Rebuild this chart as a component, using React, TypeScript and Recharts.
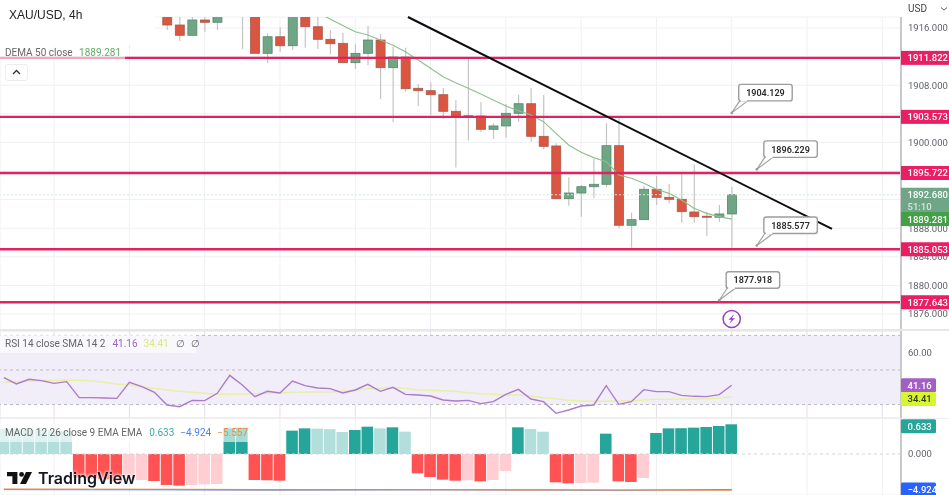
import { Bar, Cell, CartesianGrid, ComposedChart, Line, ReferenceArea, ReferenceDot, ReferenceLine, XAxis, YAxis } from "recharts";

// candles, index 0 is the first one visible on the chart
const opens = [1918.0, 1916.42, 1914.98, 1917.12, 1916.8, 1919.5, 1919.0, 1921.0, 1912.46, 1914.78, 1913.52, 1919.0, 1916.18, 1914.42, 1913.86, 1911.15, 1912.46, 1914.32, 1910.45, 1911.94, 1907.57, 1907.23, 1906.67, 1904.35, 1903.55, 1903.69, 1901.83, 1902.3, 1904.07, 1905.41, 1900.85, 1899.5, 1892.13, 1892.92, 1893.8, 1894.14, 1899.54, 1888.41, 1889.19, 1893.44, 1892.32, 1892.04, 1890.27, 1889.67, 1889.53, 1889.99];
const highs = [1918.5, 1918.0, 1918.0, 1918.2, 1918.6, 1920.0, 1921.0, 1922.0, 1915.26, 1916.1, 1920.0, 1920.0, 1918.0, 1915.68, 1915.34, 1913.72, 1916.28, 1915.16, 1913.38, 1913.24, 1908.17, 1908.41, 1907.61, 1905.93, 1911.8, 1905.61, 1902.67, 1905.37, 1906.67, 1907.61, 1906.63, 1899.88, 1895.12, 1894.04, 1897.68, 1902.67, 1903.37, 1890.17, 1893.94, 1895.3, 1894.18, 1895.68, 1896.94, 1890.31, 1891.24, 1893.8];
const lows = [1915.72, 1914.18, 1914.98, 1915.48, 1915.72, 1917.9, 1913.06, 1912.46, 1911.06, 1912.69, 1912.92, 1913.24, 1913.06, 1912.32, 1911.06, 1910.27, 1910.78, 1906.07, 1902.81, 1907.09, 1905.09, 1903.83, 1903.27, 1896.49, 1900.27, 1901.41, 1900.48, 1900.66, 1902.9, 1900.1, 1899.03, 1892.04, 1891.15, 1889.61, 1892.18, 1893.72, 1887.99, 1885.27, 1889.19, 1891.24, 1891.48, 1888.77, 1888.77, 1886.91, 1888.91, 1885.27];
const closes = [1916.42, 1914.98, 1917.12, 1916.8, 1918.0, 1918.4, 1920.0, 1912.46, 1914.78, 1913.52, 1919.0, 1916.18, 1914.42, 1913.8, 1911.15, 1912.46, 1914.32, 1910.45, 1911.94, 1907.51, 1907.23, 1906.67, 1904.35, 1903.55, 1903.73, 1901.83, 1902.3, 1904.07, 1905.41, 1900.85, 1899.45, 1892.13, 1892.92, 1893.8, 1894.14, 1899.54, 1888.41, 1889.19, 1893.44, 1892.32, 1892.04, 1890.31, 1889.61, 1889.53, 1889.99, 1892.68];

// DEMA starts at candle 12
const demaStart = 12;
const demaValues = [1918.1, 1917.26, 1916.35, 1915.48, 1915.02, 1914.32, 1913.58, 1912.69, 1911.52, 1910.36, 1909.19, 1908.35, 1907.57, 1906.77, 1905.93, 1905.09, 1904.43, 1903.83, 1902.9, 1901.27, 1899.64, 1898.62, 1897.87, 1897.3, 1895.44, 1894.98, 1894.28, 1893.44, 1892.88, 1891.94, 1890.78, 1890.08, 1889.61, 1889.28];

const priceLevels = [1911.822, 1903.573, 1895.722, 1885.053, 1877.643];
const callouts = [
  { i: 45, price: 1904.129 },
  { i: 47, price: 1896.229 },
  { i: 47, price: 1885.577 },
  { i: 44, price: 1877.918 },
];

// lower panes start 13 bars before the first candle
const lowerStart = -13;
const rsiValues = [45.57, 41.91, 44.6, 43.83, 42.29, 43.26, 34.01, 34.01, 33.81, 33.62, 42.87, 40.37, 37.09, 29.77, 28.8, 32.46, 32.27, 36.51, 46.92, 41.33, 34.58, 37.67, 36.7, 43.64, 40.94, 39.59, 39.21, 36.7, 38.44, 41.71, 37.67, 39.98, 35.93, 35.55, 34.97, 32.66, 32.08, 32.46, 30.54, 31.69, 35.93, 38.82, 33.24, 31.69, 24.95, 26.88, 29.19, 29.77, 40.94, 30.15, 31.69, 38.63, 37.47, 37.47, 35.35, 34.78, 34.58, 35.74, 41.16];
const rsiSmaValues = [42.87, 43.26, 43.64, 43.83, 44.03, 44.22, 44.03, 43.64, 42.87, 41.91, 41.52, 40.17, 39.4, 38.44, 37.67, 37.09, 36.51, 35.93, 35.93, 36.13, 36.32, 36.51, 36.7, 37.09, 37.28, 37.28, 37.28, 37.67, 38.25, 39.21, 39.4, 39.79, 39.4, 38.44, 38.25, 38.05, 37.67, 36.9, 36.32, 35.93, 35.55, 35.55, 34.97, 34.01, 33.43, 32.46, 32.08, 31.89, 31.89, 32.08, 32.27, 32.66, 33.04, 33.04, 33.23, 33.23, 33.43, 33.81, 34.41];
const macdHist = [0.54, 0.53, 0.52, 0.51, 0.5, 0.49, -0.5, -0.52, -0.54, -0.58, -0.56, -0.555, -0.576, -0.66, -0.675, -0.661, -0.647, -0.64, 0.547, 0.56, -0.555, -0.56, -0.569, 0.498, 0.547, 0.54, 0.53, 0.469, 0.512, 0.583, 0.547, 0.569, 0.476, -0.412, -0.491, -0.547, -0.569, -0.56, -0.583, -0.555, -0.363, 0.569, 0.533, 0.476, -0.604, -0.626, -0.62, -0.611, 0.434, -0.583, -0.597, -0.512, 0.448, 0.547, 0.55, 0.562, 0.576, 0.597, 0.633];
// read at a few bars only, both lines are almost flat here
const macdLinePoints = [[-13, -4.95], [0, -4.98], [8, -5.02], [20, -4.98], [30, -5.0], [36, -5.04], [45, -4.924]];
const signalLinePoints = [[-13, -4.88], [0, -4.92], [8, -4.95], [20, -4.95], [30, -4.98], [36, -5.0], [45, -5.02]];

const gridTicks = [-9, -3, 3, 9, 15, 21, 27, 33, 39, 45, 51, 57];
const priceTicks = [1876, 1880, 1884, 1888, 1892, 1896, 1900, 1904, 1908, 1912, 1916];
// these sit fully behind a coloured tag, so they get a grid line but no label
const coveredPriceTicks = [1892, 1896, 1904, 1912];
const xDomain: [number, number] = [-13.31, 58.49];
const priceDomain: [number, number] = [1873.76, 1917.54];
const rsiDomain: [number, number] = [22.25, 72.54];
const histDomain: [number, number] = [-0.8742, 0.7676];
const macdDomain: [number, number] = [-5.694, 5];

const candleRows = opens.map((open, idx) => ({
  i: idx,
  open,
  high: highs[idx],
  low: lows[idx],
  close: closes[idx],
  range: [lows[idx], highs[idx]],
  dema: idx >= demaStart ? demaValues[idx - demaStart] : null,
}));
const rsiRows = rsiValues.map((rsi, idx) => ({ i: lowerStart + idx, rsi, sma: rsiSmaValues[idx] }));
const macdRows = macdHist.map((hist, idx) => {
  const i = lowerStart + idx;
  const m = macdLinePoints.find((p) => p[0] === i);
  const s = signalLinePoints.find((p) => p[0] === i);
  return { i, hist, macd: m ? m[1] : null, signal: s ? s[1] : null };
});

const UI_FONT = "Roboto, sans-serif";
const RED = "#da5641";
const RED_EDGE = "#a9594c";
const GREEN = "#6ea686";
const GREEN_EDGE = "#55886b";
const PINK = "#e3215f";
const GRID = "#eff0f3";
const ZERO_MARGIN = { top: 0, right: 0, bottom: 0, left: 0 };

function histColor(idx: number) {
  const v = macdHist[idx];
  const prev = idx > 0 ? macdHist[idx - 1] : v + 0.01;
  if (v >= 0) return v > prev ? "#26a69a" : "#b2dfdb";
  return v < prev ? "#ff5252" : "#ffcdd2";
}

const CandleShape = (props: any) => {
  const { x, y, width, height, payload } = props;
  const unit = height / (payload.high - payload.low);
  const yOf = (v: number) => y + (payload.high - v) * unit;
  const up = payload.close >= payload.open;
  const top = yOf(Math.max(payload.open, payload.close));
  const bottom = yOf(Math.min(payload.open, payload.close));
  const mid = x + width / 2;
  return (
    <g>
      <line x1={mid} x2={mid} y1={y} y2={y + height} stroke="#c4c4c4" strokeWidth={1.2} />
      <rect
        x={x}
        y={top}
        width={width}
        height={Math.max(bottom - top, 1)}
        fill={up ? GREEN : RED}
        stroke={up ? GREEN_EDGE : RED_EDGE}
        strokeWidth={0.8}
      />
    </g>
  );
};

// coloured price tag sitting on the right hand scale
function axisTag(text: string, fill: string, w = 48, color = "#fff", dy = 0) {
  return (props: any) => {
    const { viewBox } = props;
    const x = viewBox.x + viewBox.width;
    const cy = viewBox.y + dy;
    return (
      <g>
        <rect x={x} y={cy - 7} width={w} height={14} fill={fill} rx={w < 48 ? 1.5 : 0} />
        <text x={x + 6.5} y={cy + 3.5} fontSize={9.5} fontWeight={500} fontFamily={UI_FONT} fill={color}>
          {text}
        </text>
      </g>
    );
  };
}

const lastPriceTag = (props: any) => {
  const { viewBox } = props;
  const x = viewBox.x + viewBox.width;
  const y = viewBox.y;
  return (
    <g fontFamily={UI_FONT} fontSize={9.5} fontWeight={500}>
      <rect x={x} y={y - 7} width={48} height={27} fill="#6fa687" />
      <text x={x + 6.5} y={y + 3.5} fill="#fff">1892.680</text>
      <text x={x + 6.5} y={y + 15.5} fill="#d5e6dc">51:10</text>
    </g>
  );
};

const CalloutShape = (props: any) => {
  const { cx, cy, label } = props;
  const left = cx + 7;
  const top = cy - 28.5;
  return (
    <g>
      <path
        d={`M${cx} ${cy} L${left + 1} ${top + 16.5} L${left + 9} ${top + 16.5} Z`}
        fill="#fff"
        stroke="#a2a2a2"
        strokeWidth={1.2}
      />
      <rect x={left} y={top} width={53.5} height={16.5} rx={2.5} fill="#fff" stroke="#9d9d9d" strokeWidth={1.4} />
      <rect x={left + 2} y={top + 14} width={6.5} height={3.2} fill="#fff" />
      <circle cx={cx} cy={cy} r={1.3} fill="#9a9a9a" />
      <text x={left + 26.7} y={top + 11.7} textAnchor="middle" fontSize={9} fontWeight={600} fontFamily={UI_FONT} fill="#2a2a2a">
        {label}
      </text>
    </g>
  );
};

const BoltShape = (props: any) => {
  const { cx, cy } = props;
  return (
    <g>
      <circle cx={cx} cy={cy} r={8.6} fill="#fff" stroke="#9c3fbd" strokeWidth={1.5} />
      <path
        d={`M${cx + 2.6} ${cy - 5} L${cx - 3.2} ${cy + 0.8} L${cx - 0.2} ${cy + 0.8} L${cx - 2.6} ${cy + 5} L${cx + 3.2} ${cy - 0.8} L${cx + 0.2} ${cy - 0.8} Z`}
        fill="#9c3fbd"
      />
    </g>
  );
};

const tickStyle = { fontSize: 9.5, fontFamily: UI_FONT, fill: "#5f636b" };
const axisLineStyle = { stroke: "#c9c9c9", strokeWidth: 2 };
const paneStyle = (top: number, height: number) => ({ position: "absolute" as const, left: 0, top, width: 949, height });
const legendStyle = (top: number, width: number, height: number) => ({
  position: "absolute" as const,
  left: 0,
  top,
  width,
  height,
  background: "rgba(255,255,255,0.6)",
  fontFamily: UI_FONT,
  fontSize: 10,
  lineHeight: `${height}px`,
  color: "#666",
  paddingLeft: 5,
  boxSizing: "border-box" as const,
  whiteSpace: "nowrap" as const,
});

export default function App() {
  return (
    <div
      style={{
        position: "absolute",
        left: 0,
        top: 0,
        width: 949,
        height: 495,
        background: "#fff",
        overflow: "hidden",
        filter: "blur(0.35px)",
      }}
    >
      {/* price pane */}
      <div style={paneStyle(0, 330)}>
        <ComposedChart width={949} height={330} data={candleRows} margin={{ top: 17, right: 0, bottom: 0, left: 0 }}>
          <CartesianGrid stroke={GRID} strokeWidth={1} />
          <XAxis dataKey="i" type="number" domain={xDomain} allowDataOverflow ticks={gridTicks} hide />
          <YAxis
            orientation="right"
            width={48}
            domain={priceDomain}
            allowDataOverflow
            ticks={priceTicks}
            interval={0}
            tickFormatter={(v: number) => (coveredPriceTicks.includes(v) ? "" : v.toFixed(3))}
            tick={tickStyle}
            tickLine={false}
            tickMargin={7}
            tickSize={0}
            axisLine={axisLineStyle}
          />
          <ReferenceLine y={1892.68} stroke="#d9e6de" strokeDasharray="2 2" />
          <Line dataKey="dema" stroke="#8ec08f" strokeWidth={1.2} dot={false} isAnimationActive={false} />
          <Bar dataKey="range" barSize={9} shape={CandleShape} isAnimationActive={false} />
          {priceLevels.map((p) => (
            <ReferenceLine key={p} y={p} stroke={PINK} strokeWidth={2.4} />
          ))}
          <ReferenceLine
            segment={[
              { x: 19.2, y: 1917.54 },
              { x: 52.99, y: 1887.89 },
            ]}
            stroke="#0c0c0c"
            strokeWidth={2}
          />
          {callouts.map((c) => (
            <ReferenceDot
              key={c.price}
              x={c.i}
              y={c.price}
              r={0}
              shape={(p: any) => <CalloutShape {...p} label={c.price.toFixed(3)} />}
            />
          ))}
          <ReferenceDot x={45} y={1875.3} r={0} shape={BoltShape} />
        </ComposedChart>
      </div>
      {/* the tags have to cover the tick labels, so they get their own chart on top */}
      <div style={paneStyle(0, 330)}>
        <ComposedChart width={949} height={330} data={candleRows} margin={{ top: 17, right: 0, bottom: 0, left: 0 }}>
          <XAxis dataKey="i" type="number" domain={xDomain} allowDataOverflow hide />
          <YAxis orientation="right" width={48} domain={priceDomain} allowDataOverflow tick={false} tickLine={false} axisLine={false} />
          <ReferenceLine y={1892.68} stroke="none" label={lastPriceTag} />
          {priceLevels.map((p) => (
            <ReferenceLine key={p} y={p} stroke="none" label={axisTag(p.toFixed(3), "#e91e63")} />
          ))}
          <ReferenceLine y={1889.281} stroke="none" label={axisTag("1889.281", "#43a047")} />
        </ComposedChart>
      </div>

      {/* RSI pane */}
      <div style={paneStyle(331, 87)}>
        <ComposedChart width={949} height={87} data={rsiRows} margin={ZERO_MARGIN}>
          <ReferenceArea y1={30} y2={70} fill="#f1edf9" fillOpacity={1} stroke="none" />
          <CartesianGrid stroke="#e2dfe9" strokeWidth={1} />
          <XAxis dataKey="i" type="number" domain={xDomain} allowDataOverflow ticks={gridTicks} hide />
          <YAxis
            orientation="right"
            width={48}
            domain={rsiDomain}
            allowDataOverflow
            ticks={[40, 60]}
            interval={0}
            tickFormatter={(v: number) => (v === 40 ? "" : v.toFixed(2))}
            tick={tickStyle}
            tickLine={false}
            tickMargin={7}
            tickSize={0}
            axisLine={axisLineStyle}
          />
          {[70, 50, 30].map((v) => (
            <ReferenceLine key={v} y={v} stroke="#b9b9bd" strokeDasharray="3 3" />
          ))}
          <Line dataKey="sma" stroke="#e8f0a4" strokeWidth={1.5} dot={false} isAnimationActive={false} />
          <Line dataKey="rsi" stroke="#ab7ccb" strokeWidth={1.4} dot={false} isAnimationActive={false} />
        </ComposedChart>
      </div>
      <div style={paneStyle(331, 87)}>
        <ComposedChart width={949} height={87} data={rsiRows} margin={ZERO_MARGIN}>
          <XAxis dataKey="i" type="number" domain={xDomain} allowDataOverflow hide />
          <YAxis orientation="right" width={48} domain={rsiDomain} allowDataOverflow tick={false} tickLine={false} axisLine={false} />
          <ReferenceLine y={41.16} stroke="none" label={axisTag("41.16", "#a45fc2", 35)} />
          <ReferenceLine y={34.41} stroke="none" label={axisTag("34.41", "#d8f62e", 35, "#33361f", 2)} />
        </ComposedChart>
      </div>

      {/* MACD pane */}
      <div style={paneStyle(418, 77)}>
        <ComposedChart width={949} height={77} data={macdRows} margin={ZERO_MARGIN}>
          <CartesianGrid stroke={GRID} strokeWidth={1} />
          <XAxis dataKey="i" type="number" domain={xDomain} allowDataOverflow ticks={gridTicks} hide />
          <YAxis yAxisId="hist" hide domain={histDomain} allowDataOverflow />
          <YAxis
            yAxisId="line"
            orientation="right"
            width={48}
            domain={macdDomain}
            allowDataOverflow
            ticks={[0]}
            interval={0}
            tickFormatter={(v: number) => v.toFixed(3)}
            tick={tickStyle}
            tickLine={false}
            tickMargin={7}
            tickSize={0}
            axisLine={axisLineStyle}
          />
          <ReferenceLine yAxisId="line" y={0} stroke="#d4d4d6" strokeDasharray="3 3" />
          <Bar yAxisId="hist" dataKey="hist" barSize={11.6} isAnimationActive={false}>
            {macdRows.map((row, idx) => (
              <Cell key={row.i} fill={histColor(idx)} />
            ))}
          </Bar>
          <Line yAxisId="line" dataKey="macd" stroke="#5f86e0" strokeWidth={1} dot={false} connectNulls isAnimationActive={false} />
          <Line yAxisId="line" dataKey="signal" stroke="#e08a4a" strokeWidth={1.2} dot={false} connectNulls isAnimationActive={false} />
        </ComposedChart>
      </div>
      <div style={paneStyle(418, 77)}>
        <ComposedChart width={949} height={77} data={macdRows} margin={ZERO_MARGIN}>
          <XAxis dataKey="i" type="number" domain={xDomain} allowDataOverflow hide />
          <YAxis yAxisId="hist" hide domain={histDomain} allowDataOverflow />
          <YAxis yAxisId="line" orientation="right" width={48} domain={macdDomain} allowDataOverflow tick={false} tickLine={false} axisLine={false} />
          <ReferenceLine yAxisId="hist" y={0.633} stroke="none" label={axisTag("0.633", "#26a69a", 35, "#fff", 2)} />
          <ReferenceLine yAxisId="line" y={-4.924} stroke="none" label={axisTag("\u22124.924", "#2962ff", 35)} />
        </ComposedChart>
      </div>

      {/* pane separators */}
      <div style={{ position: "absolute", left: 0, top: 329, width: 949, height: 2, background: "#e7e7e9" }} />
      <div style={{ position: "absolute", left: 0, top: 418, width: 949, height: 1, background: "#eeeef0" }} />

      {/* legends */}
      <div style={{ position: "absolute", left: 0, top: 0, width: 155, height: 45, background: "#fff" }} />
      <div style={{ position: "absolute", left: 9, top: 8, fontFamily: "'Liberation Sans', sans-serif", fontSize: 12, lineHeight: "14px", color: "#222" }}>
        XAU/USD, 4h
      </div>
      <div style={legendStyle(45, 125, 16)}>
        DEMA 50 close <span style={{ color: "#63ad67", marginLeft: 4 }}>1889.281</span>
      </div>
      <div
        style={{
          position: "absolute",
          left: 5,
          top: 64,
          width: 23,
          height: 17,
          boxSizing: "border-box",
          background: "#fff",
          border: "1px solid #ececec",
          borderRadius: 3,
        }}
      >
        <svg width={21} height={15} style={{ display: "block" }}>
          <path d="M7 9 L10.5 5.5 L14 9" fill="none" stroke="#333" strokeWidth={1.3} />
        </svg>
      </div>
      <div style={legendStyle(335, 196, 18)}>
        RSI 14 close SMA 14 2
        <span style={{ color: "#a062c4", marginLeft: 7 }}>41.16</span>
        <span style={{ color: "#dbe87a", marginLeft: 6 }}>34.41</span>
        <span style={{ marginLeft: 7 }}>∅</span>
        <span style={{ marginLeft: 6 }}>∅</span>
      </div>
      <div style={legendStyle(424, 248, 18)}>
        MACD 12 26 close 9 EMA EMA
        <span style={{ color: "#3aaa9e", marginLeft: 7 }}>0.633</span>
        <span style={{ color: "#4a7fe6", marginLeft: 6 }}>−4.924</span>
        <span style={{ color: "#ee8c3e", marginLeft: 6 }}>−5.557</span>
      </div>

      {/* USD selector */}
      <div style={{ position: "absolute", left: 902, top: 0, width: 47, height: 22, background: "#fff" }} />
      <div style={{ position: "absolute", left: 908, top: 1, fontFamily: UI_FONT, fontSize: 10, lineHeight: "15px", color: "#444" }}>USD</div>
      <svg width={8} height={6} style={{ position: "absolute", left: 940, top: 6 }}>
        <path d="M1 1.5 L4 4 L7 1.5" fill="none" stroke="#666" strokeWidth={1} />
      </svg>

      {/* TradingView mark */}
      <svg width={30} height={16} style={{ position: "absolute", left: 6, top: 470 }}>
        <path d="M1 2 H11.4 V14 H6.4 V6.3 H1 Z" fill="#111" />
        <circle cx={15.6} cy={4.4} r={2.4} fill="#111" />
        <path d="M20 2 H26 L20 14 H14 Z" fill="#111" />
      </svg>
      <div
        style={{
          position: "absolute",
          left: 38,
          top: 466,
          fontFamily: "Inter, sans-serif",
          fontWeight: 600,
          fontSize: 16,
          lineHeight: "24px",
          color: "#131722",
          textShadow: "0 0 3px #fff, 0 0 3px #fff",
        }}
      >
        TradingView
      </div>
    </div>
  );
}
